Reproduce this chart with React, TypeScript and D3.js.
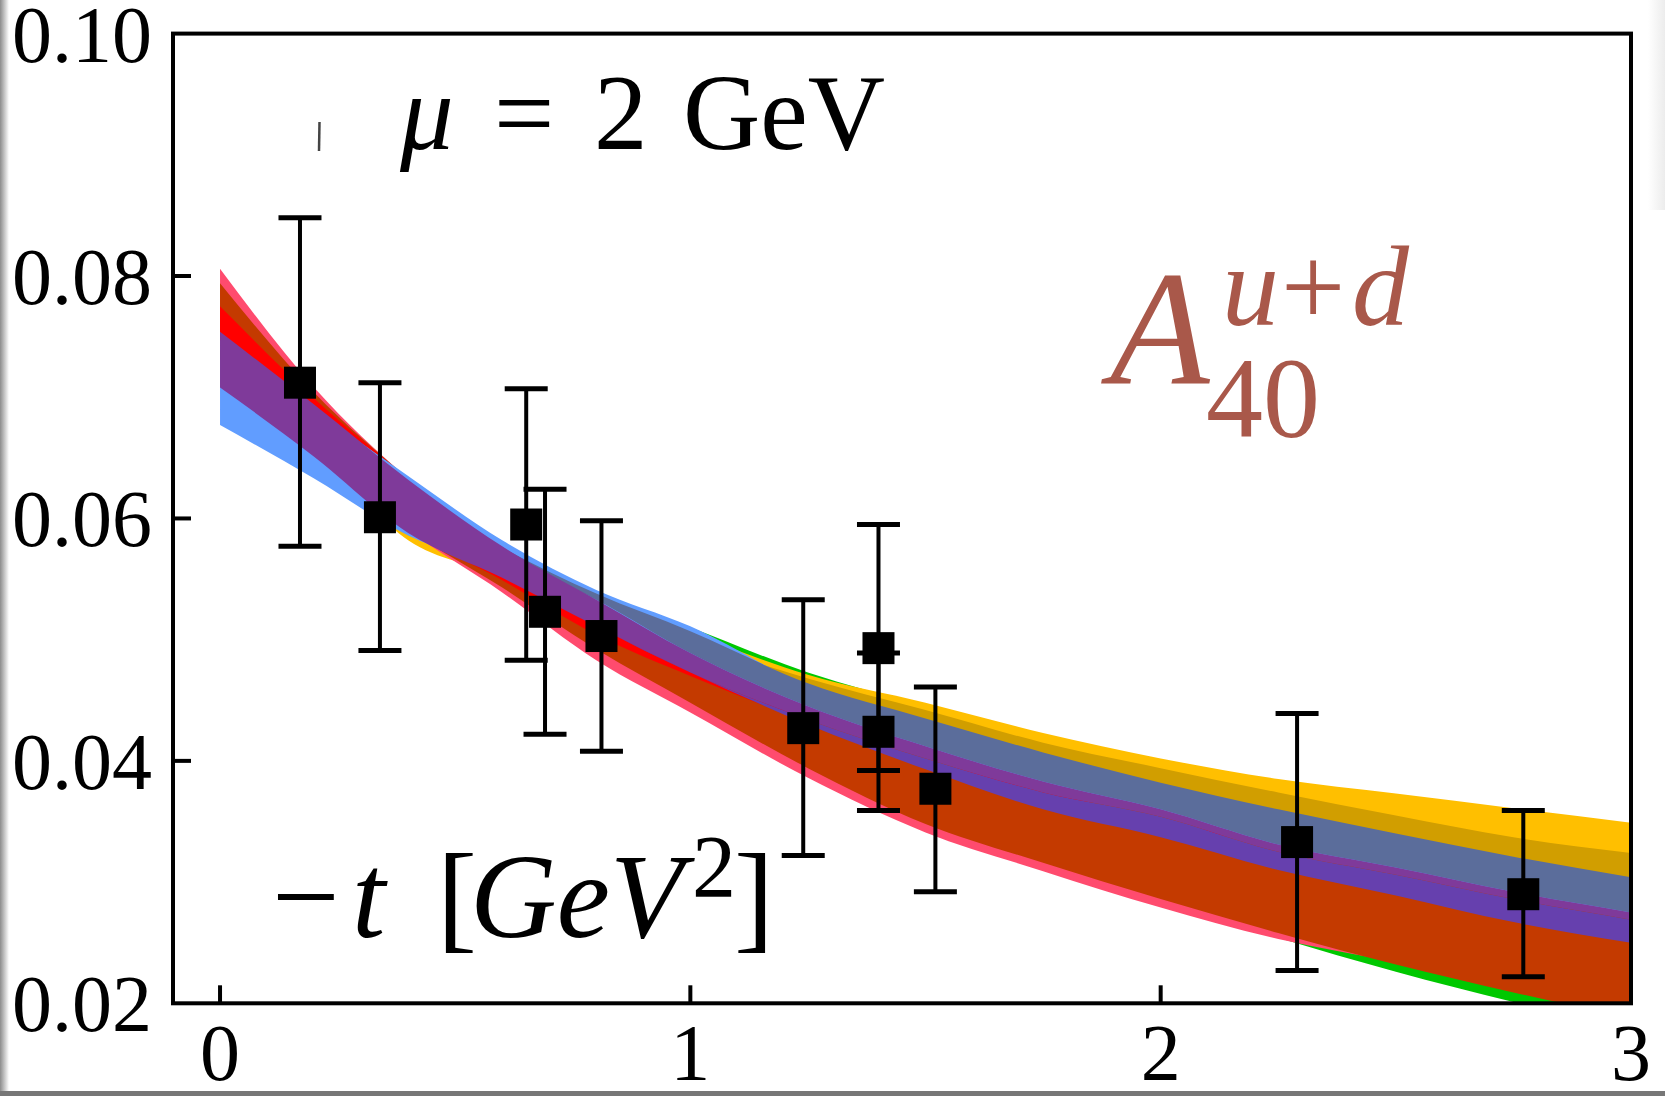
import React from 'react';
import * as d3 from 'd3';

const W = 1665;
const H = 1096;

// ---- band data (values of -t nodes and band edges) ----
const bandT = [0, 0.2, 0.4, 0.6, 0.8, 1.0, 1.25, 1.5, 1.75, 2.0, 2.25, 2.5, 2.75, 3.0];

const greenUpper = [0.0739, 0.0685, 0.0628, 0.0578, 0.0539, 0.0510, 0.0473, 0.0445, 0.0419, 0.0396, 0.0376, 0.0361, 0.0346, 0.0333];
const greenLower = [0.0714, 0.0657, 0.0595, 0.0549, 0.0500, 0.0459, 0.0409, 0.0364, 0.0322, 0.0285, 0.0254, 0.0226, 0.0201, 0.0178];
const yellowUpper = [0.0739, 0.0681, 0.0624, 0.0576, 0.0536, 0.0506, 0.0471, 0.0448, 0.0423, 0.0402, 0.0385, 0.0373, 0.0361, 0.0349];
const yellowLower = [0.0714, 0.0657, 0.0582, 0.0553, 0.0520, 0.0492, 0.0450, 0.0426, 0.0401, 0.0380, 0.0360, 0.0339, 0.0318, 0.0298];
const pinkUpper = [0.0806, 0.0708, 0.0633, 0.0574, 0.0533, 0.0500, 0.0450, 0.0417, 0.0393, 0.0368, 0.0343, 0.0327, 0.0310, 0.0294];
const pinkLower = [0.0731, 0.0661, 0.0591, 0.0539, 0.0483, 0.0440, 0.0386, 0.0341, 0.0309, 0.0279, 0.0253, 0.0234, 0.0215, 0.0200];
const orangeUpper = [0.0794, 0.0704, 0.0633, 0.0570, 0.0529, 0.0496, 0.0446, 0.0413, 0.0388, 0.0364, 0.0339, 0.0322, 0.0306, 0.0289];
const orangeLower = [0.0727, 0.0661, 0.0592, 0.0543, 0.0492, 0.0448, 0.0394, 0.0348, 0.0316, 0.0286, 0.0258, 0.0232, 0.0209, 0.0188];
const redUpper = [0.0775, 0.0699, 0.0632, 0.0558, 0.0514, 0.0479, 0.0434, 0.0401, 0.0376, 0.0351, 0.0331, 0.0314, 0.0298, 0.0281];
const redLower = [0.0718, 0.0657, 0.0591, 0.0549, 0.0504, 0.0470, 0.0432, 0.0399, 0.0374, 0.0350, 0.0329, 0.0313, 0.0296, 0.0280];
const goldUpper = [0.0731, 0.0677, 0.0619, 0.0570, 0.0533, 0.0500, 0.0468, 0.0442, 0.0415, 0.0394, 0.0374, 0.0355, 0.0337, 0.0324];
const goldLower = [0.0723, 0.0665, 0.0607, 0.0558, 0.0520, 0.0492, 0.0450, 0.0426, 0.0401, 0.0376, 0.0355, 0.0335, 0.0314, 0.0294];
const blueUpper = [0.0747, 0.0690, 0.0635, 0.0582, 0.0541, 0.0511, 0.0462, 0.0434, 0.0406, 0.0380, 0.0358, 0.0338, 0.0319, 0.0303];
const blueLower = [0.0677, 0.0633, 0.0586, 0.0558, 0.0520, 0.0487, 0.0440, 0.0409, 0.0380, 0.0355, 0.0328, 0.0310, 0.0289, 0.0273];
const slateUpper = [0.0739, 0.0681, 0.0624, 0.0576, 0.0538, 0.0507, 0.0464, 0.0435, 0.0407, 0.0382, 0.0360, 0.0340, 0.0321, 0.0304];
const slateLower = [0.0731, 0.0673, 0.0615, 0.0570, 0.0533, 0.0489, 0.0445, 0.0412, 0.0383, 0.0360, 0.0331, 0.0312, 0.0292, 0.0275];
const purpleUpper = [0.0754, 0.0694, 0.0632, 0.0577, 0.0533, 0.0489, 0.0445, 0.0412, 0.0383, 0.0360, 0.0331, 0.0312, 0.0292, 0.0275];
const purpleLower = [0.0708, 0.0651, 0.0588, 0.0551, 0.0511, 0.0473, 0.0434, 0.0402, 0.0374, 0.0354, 0.0325, 0.0306, 0.0286, 0.0269];
const violetLower = [0.0708, 0.0651, 0.0588, 0.0551, 0.0511, 0.0473, 0.0430, 0.0393, 0.0360, 0.0337, 0.0310, 0.0289, 0.0267, 0.0250];

// ---- lattice data points ----
const pointT = [0.170, 0.340, 0.651, 0.691, 0.811, 1.240, 1.400, 1.400, 1.521, 2.290, 2.771];
const pointY = [0.0712, 0.0601, 0.0595, 0.0523, 0.0503, 0.0427, 0.0493, 0.0424, 0.0377, 0.0333, 0.0290];
const pointHi = [0.0848, 0.0712, 0.0707, 0.0624, 0.0598, 0.0533, 0.0595, 0.0489, 0.0461, 0.0439, 0.0359];
const pointLo = [0.0577, 0.0491, 0.0483, 0.0422, 0.0408, 0.0322, 0.0392, 0.0359, 0.0292, 0.0227, 0.0222];

// ---- axes ----
const yTicks = [0.02, 0.04, 0.06, 0.08, 0.10];
const yTickLabels = ['0.02', '0.04', '0.06', '0.08', '0.10'];
const xTicks = [0, 1, 2, 3];
const xTickLabels = ['0', '1', '2', '3'];

const SERIF = '"Liberation Serif", "Times New Roman", serif';

export default function App() {
  const x = d3.scaleLinear().domain([-0.1, 3]).range([173, 1631]);
  const y = d3.scaleLinear().domain([0.02, 0.10]).range([1003.3, 33.6]);

  const bands = [
    { upper: greenUpper, lower: greenLower, color: '#00c800' },
    { upper: yellowUpper, lower: yellowLower, color: '#ffbf00' },
    { upper: pinkUpper, lower: pinkLower, color: '#ff4b6e' },
    { upper: orangeUpper, lower: orangeLower, color: '#c43a00' },
    { upper: redUpper, lower: redLower, color: '#ff0000' },
    { upper: goldUpper, lower: goldLower, color: '#d19e00' },
    { upper: blueUpper, lower: blueLower, color: '#619dff' },
    { upper: slateUpper, lower: slateLower, color: '#5b6d9b' },
    { upper: purpleUpper, lower: purpleLower, color: '#7f3a9a' },
    { upper: purpleLower, lower: violetLower, color: '#6640ae' },
  ];

  const makeArea = (upper: number[], lower: number[]) =>
    d3
      .area<number>()
      .x((d) => x(d))
      .y0((_, i) => y(lower[i]))
      .y1((_, i) => y(upper[i]))
      .curve(d3.curveMonotoneX)(bandT) as string;

  const left = x(-0.1);
  const right = x(3);
  const top = y(0.1);
  const bottom = y(0.02);
  const tickLen = 18;
  const capW = 43;
  const sq = 32;

  return (
    <svg
      width={W}
      height={H}
      viewBox={`0 0 ${W} ${H}`}
      style={{ position: 'absolute', left: 0, top: 0, background: '#fff' }}
    >
      <defs>
        <clipPath id="plotClip">
          <rect x={left} y={top} width={right - left} height={bottom - top} />
        </clipPath>
        <linearGradient id="leftShade" x1="0" x2="1" y1="0" y2="0">
          <stop offset="0" stopColor="#8c8c8c" />
          <stop offset="1" stopColor="#ffffff" />
        </linearGradient>
        <linearGradient id="rightShade" x1="0" x2="1" y1="0" y2="0">
          <stop offset="0" stopColor="#ffffff" />
          <stop offset="1" stopColor="#ececec" />
        </linearGradient>
      </defs>
      <rect x={0} y={0} width={W} height={H} fill="#fff" />
      <rect x={0} y={0} width={9} height={H} fill="url(#leftShade)" />
      <rect x={1648} y={0} width={17} height={210} fill="url(#rightShade)" />
      <rect x={0} y={1091} width={W} height={5} fill="#777" />

      <g clipPath="url(#plotClip)">
        {bands.map((b, i) => (
          <path key={i} d={makeArea(b.upper, b.lower)} fill={b.color} stroke="none" />
        ))}
      </g>

      {/* error bars */}
      <g stroke="#000" fill="none">
        {pointT.map((t, i) => (
          <g key={i}>
            <line x1={x(t)} x2={x(t)} y1={y(pointHi[i])} y2={y(pointLo[i])} strokeWidth={4} />
            <line x1={x(t) - capW / 2} x2={x(t) + capW / 2} y1={y(pointHi[i])} y2={y(pointHi[i])} strokeWidth={5} />
            <line x1={x(t) - capW / 2} x2={x(t) + capW / 2} y1={y(pointLo[i])} y2={y(pointLo[i])} strokeWidth={5} />
          </g>
        ))}
      </g>
      <g fill="#000">
        {pointT.map((t, i) => (
          <rect key={i} x={x(t) - sq / 2} y={y(pointY[i]) - sq / 2} width={sq} height={sq} />
        ))}
      </g>

      {/* frame */}
      <rect x={left} y={top} width={right - left} height={bottom - top} fill="none" stroke="#000" strokeWidth={4} />

      {/* ticks */}
      <g stroke="#000" strokeWidth={4}>
        {yTicks.slice(1, 4).map((v) => (
          <line key={v} x1={left} x2={left + tickLen} y1={y(v)} y2={y(v)} />
        ))}
        {xTicks.slice(0, 3).map((v) => (
          <line key={v} x1={x(v)} x2={x(v)} y1={bottom} y2={bottom - tickLen} />
        ))}
      </g>

      <g fontFamily={SERIF} fontSize={80} fill="#000">
        {yTicks.map((v, i) => (
          <text key={v} x={152} y={y(v) + 28} textAnchor="end">
            {yTickLabels[i]}
          </text>
        ))}
        {xTicks.map((v, i) => (
          <text key={v} x={x(v)} y={1080} textAnchor="middle">
            {xTickLabels[i]}
          </text>
        ))}
      </g>

      {/* small clipped glyph remnant left of mu */}
      <line x1={319.5} x2={319} y1={122} y2={151} stroke="#444" strokeWidth={2.5} />

      {/* scale annotation */}
      <text fontFamily={SERIF} fontSize={107} fill="#000" y={149}>
        <tspan x={400} fontStyle="italic">μ</tspan>
        <tspan x={494}>=</tspan>
        <tspan x={594}>2</tspan>
        <tspan x={683}>GeV</tspan>
      </text>

      {/* x-axis label inside plot */}
      <text fontFamily={SERIF} fontSize={120} fill="#000" y={937}>
        <tspan x={272}>−</tspan>
        <tspan x={352} fontStyle="italic">t</tspan>
        <tspan x={437}>[</tspan>
        <tspan x={470} fontStyle="italic">GeV</tspan>
        <tspan x={692} y={896} fontSize={88}>2</tspan>
        <tspan x={734} y={937}>]</tspan>
      </text>

      {/* observable label */}
      <g fontFamily={SERIF} fill="#a9584a">
        <text x={1110} y={383} fontSize={163} fontStyle="italic">A</text>
        <text y={325} fontSize={114}>
          <tspan x={1222} fontStyle="italic">u</tspan>
          <tspan x={1281}>+</tspan>
          <tspan x={1352} fontStyle="italic">d</tspan>
        </text>
        <text x={1206} y={437} fontSize={114}>40</text>
      </g>
    </svg>
  );
}
